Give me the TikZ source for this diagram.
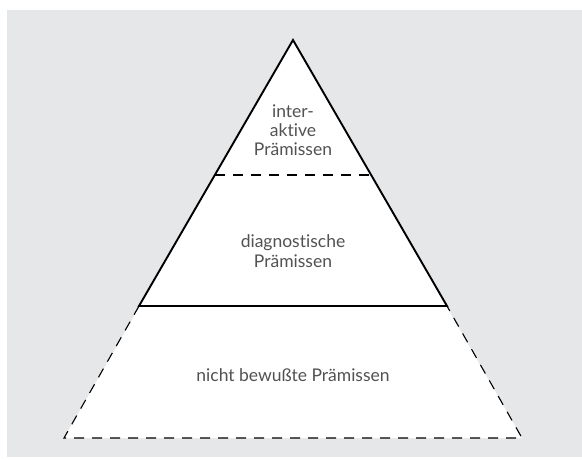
\documentclass[tikz,border=0pt]{standalone}
\usepackage{fontspec}
\setmainfont{Lato}[Ligatures={NoCommon}]
\begin{document}
\begin{tikzpicture}[x=1pt,y=-1pt,
  lbl/.style={text=black!68, font=\fontsize{17.5}{20}\selectfont, inner sep=0pt, align=center},
  solidln/.style={line width=1.9pt, line join=miter},
  dashln/.style={line width=1.1pt, dash pattern=on 10pt off 8pt}]
\useasboundingbox (0,0) rectangle (582,459);
\fill[fill={rgb,255:red,230;green,231;blue,233}] (7,10) rectangle (582,457);
\coordinate (A) at (293,40);
\coordinate (L1) at (139,306);
\coordinate (R1) at (447,306);
\coordinate (L0) at (64,438);
\coordinate (R0) at (522,438);
\coordinate (LM) at (215,175);
\coordinate (RM) at (371,175);
\fill[white] (A) -- (L0) -- (R0) -- cycle;
\draw[dashln] (L1) -- (L0) -- (R0) -- (R1);
\draw[dashln] (LM) -- (RM);
\draw[solidln] (A) -- (L1) -- (R1) -- cycle;
\node[lbl, anchor=base] (t1) at (293,117) {inter-};
\node[lbl, anchor=base] (t2) at (293,136) {aktive};
\node[lbl, anchor=base] (t3) at (293,155) {Prämissen};
\node[lbl, anchor=base] (d1) at (293,247) {diagnostische};
\node[lbl, anchor=base] (d2) at (293,267) {Prämissen};
\node[lbl, anchor=base] (n1) at (293,381) {nicht bewußte Prämissen};
\end{tikzpicture}
\end{document}
